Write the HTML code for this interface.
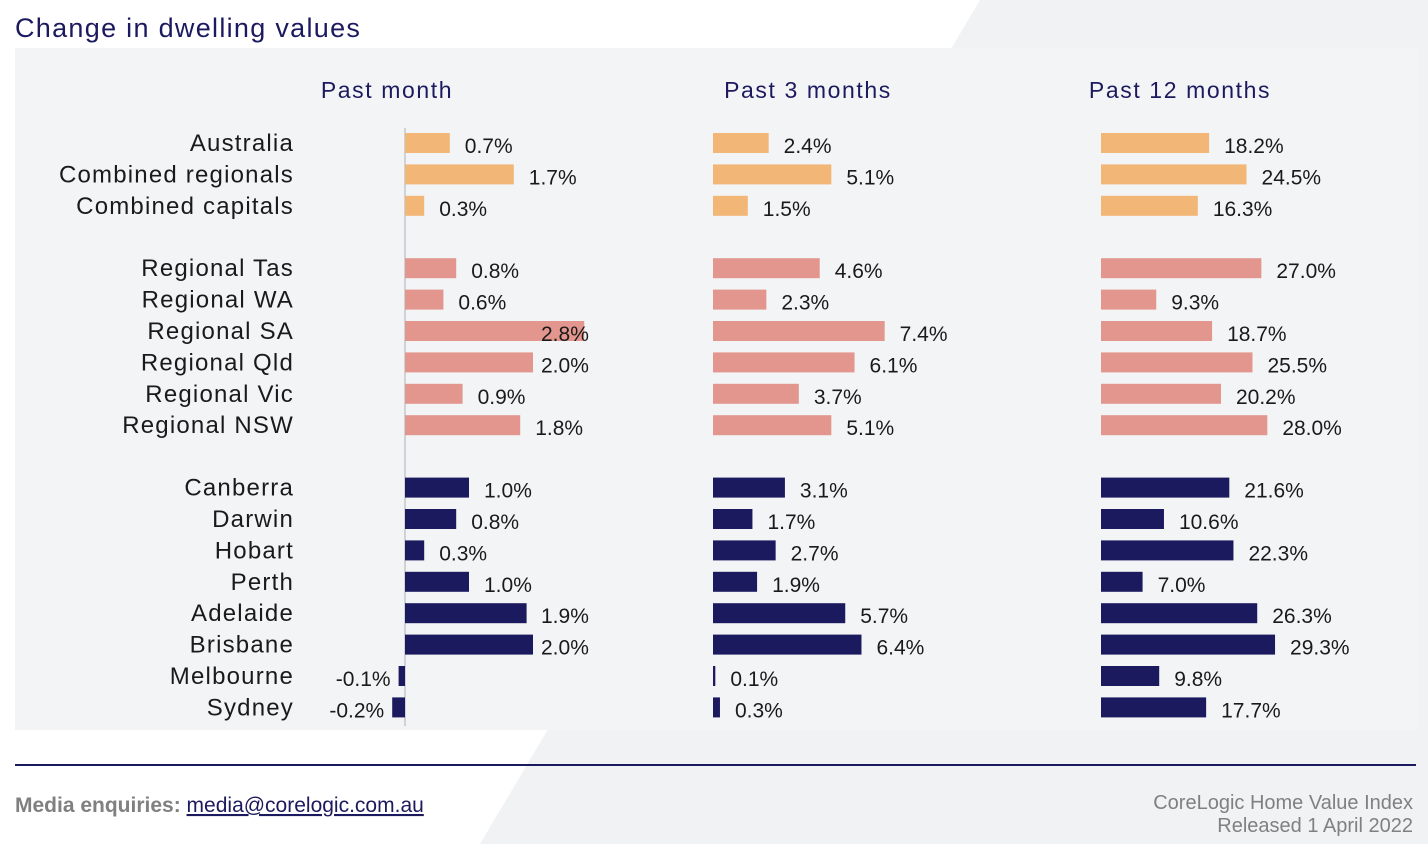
<!DOCTYPE html>
<html><head><meta charset="utf-8"><style>
body{margin:0;width:1428px;height:844px;overflow:hidden;background:#fff;font-family:"Liberation Sans",sans-serif;position:relative}
</style></head><body>
<svg width="1428" height="844" style="position:absolute;left:0;top:0">
<polygon points="980,0 1428,0 1428,844 480,844" fill="#f1f2f4"/>
<rect x="15" y="48" width="1403" height="682" fill="#f3f4f6"/>
<text x="15" y="37" font-size="27" fill="#1c1a5e" letter-spacing="1.3">Change in dwelling values</text>
<line x1="405" y1="128" x2="405" y2="726" stroke="#d0d2d6" stroke-width="2"/>
<g id="g"></g>
<line x1="15" y1="765" x2="1416" y2="765" stroke="#1c1a5e" stroke-width="2"/>
<text x="15" y="812" font-size="21" font-weight="bold" fill="#808080" font-family="Liberation Sans Narrow, Liberation Sans, sans-serif">Media enquiries: <tspan fill="#1c1a5e" font-weight="normal" text-decoration="underline">media@corelogic.com.au</tspan></text>
<text x="1413" y="809" font-size="20" fill="#808080" text-anchor="end" font-family="Liberation Sans Narrow, Liberation Sans, sans-serif">CoreLogic Home Value Index</text>
<text x="1413" y="832" font-size="20" fill="#808080" text-anchor="end" font-family="Liberation Sans Narrow, Liberation Sans, sans-serif">Released 1 April 2022</text>
</svg>
<script>
const categories=["Australia","Combined regionals","Combined capitals","Regional Tas","Regional WA","Regional SA","Regional Qld","Regional Vic","Regional NSW","Canberra","Darwin","Hobart","Perth","Adelaide","Brisbane","Melbourne","Sydney"];
const groups=[0,0,0,1,1,1,1,1,1,2,2,2,2,2,2,2,2];
const pastMonth=[0.7,1.7,0.3,0.8,0.6,2.8,2.0,0.9,1.8,1.0,0.8,0.3,1.0,1.9,2.0,-0.1,-0.2];
const past3Months=[2.4,5.1,1.5,4.6,2.3,7.4,6.1,3.7,5.1,3.1,1.7,2.7,1.9,5.7,6.4,0.1,0.3];
const past12Months=[18.2,24.5,16.3,27.0,9.3,18.7,25.5,20.2,28.0,21.6,10.6,22.3,7.0,26.3,29.3,9.8,17.7];
const panelTitles=["Past month","Past 3 months","Past 12 months"];
const colors=["#f2b677","#e3968e","#1c1a5e"];
const panels=[{d:pastMonth,x0:405,k:64,tx:387,cap:541},{d:past3Months,x0:713,k:23.2,tx:808,cap:9999},{d:past12Months,x0:1101,k:5.94,tx:1180,cap:9999}];
const NS="http://www.w3.org/2000/svg",g=document.getElementById('g');
function yPos(i){return 143+i*31.4+groups[i]*31;}
function mk(t,a,txt){const e=document.createElementNS(NS,t);for(const k in a)e.setAttribute(k,a[k]);if(txt!=null)e.textContent=txt;g.appendChild(e);return e;}
categories.forEach((c,i)=>{const e=mk('text',{x:294,y:yPos(i)+8,'font-size':24,fill:'#1a1a1a','text-anchor':'end','letter-spacing':1.2},c);

});
panels.forEach((p,j)=>{
 const h=mk('text',{x:p.tx,y:98,'font-size':23,fill:'#1c1a5e','text-anchor':'middle','letter-spacing':1.6},panelTitles[j]);
 
 
 p.d.forEach((v,i)=>{
  const y=yPos(i),end=p.x0+v*p.k;
  const r=mk('rect',{x:Math.min(p.x0,end),y:y-10,width:Math.max(Math.abs(v*p.k),2),height:20,fill:colors[groups[i]]});
  
  
  const lbl=v.toFixed(1)+'%';
  const t=v<0?mk('text',{x:end-8,y:y+10,'font-size':21,fill:'#1a1a1a','text-anchor':'end'},lbl):mk('text',{x:Math.min(end+15,p.cap),y:y+10,'font-size':21,fill:'#1a1a1a'},lbl);
  
  
 });
});
</script>
</body></html>
